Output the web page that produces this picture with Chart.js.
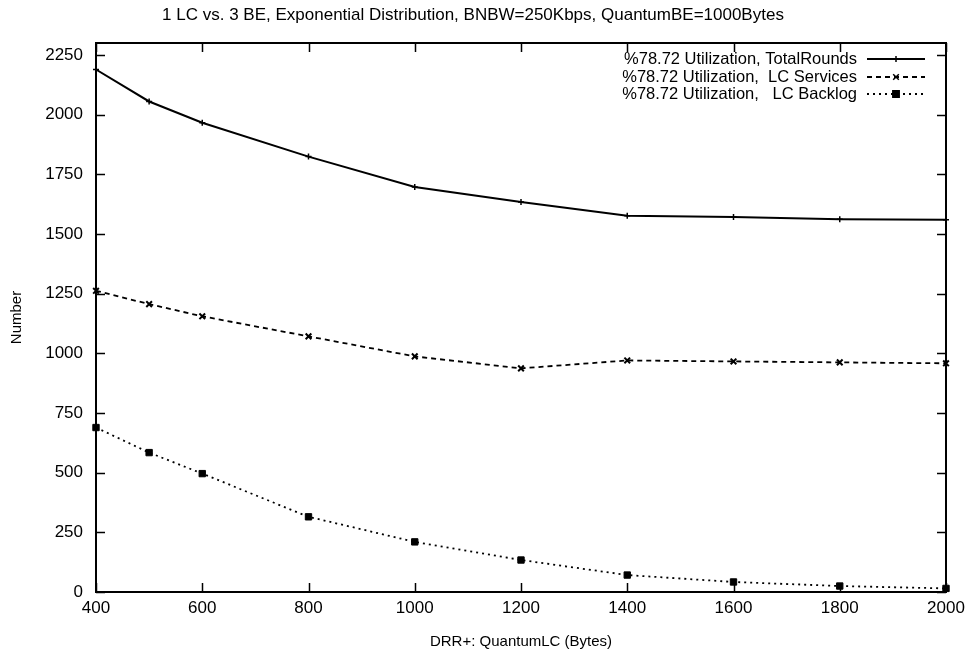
<!DOCTYPE html>
<html>
<head>
<meta charset="utf-8">
<script src="https://cdn.jsdelivr.net/npm/chart.js@4/dist/chart.umd.min.js"></script>
<style>
html,body{margin:0;padding:0;background:#fff;}
#wrap{width:971px;height:651px;}
</style>
</head>
<body>
<div id="wrap"><canvas id="c" width="971" height="651"></canvas></div>
<script>
const quantumLC = [400, 500, 600, 800, 1000, 1200, 1400, 1600, 1800, 2000];
const totalRounds = [2189, 2055, 1966, 1824, 1697, 1634, 1576, 1571, 1562, 1559];
const lcServices = [1262, 1206, 1155, 1071, 987, 937, 970, 966, 962, 958];
const lcBacklog = [689, 584, 496, 315, 210, 134, 71, 42, 25, 15];
const xTicks = [400, 600, 800, 1000, 1200, 1400, 1600, 1800, 2000];
const yTicks = [0, 250, 500, 750, 1000, 1250, 1500, 1750, 2000, 2250];
const seriesLabels = ['%78.72 Utilization, TotalRounds', '%78.72 Utilization,  LC Services', '%78.72 Utilization,   LC Backlog'];

const FONT = '"Liberation Sans", Arial, Helvetica, sans-serif';
const pts = arr => quantumLC.map((x, i) => ({x: x, y: arr[i]}));

const framePlugin = {
  id: 'frame',
  afterDatasetsDraw(chart) {
    const {ctx, chartArea: a, scales} = chart;
    ctx.save();
    ctx.strokeStyle = '#000';
    ctx.lineWidth = 2;
    ctx.strokeRect(a.left, a.top, a.right - a.left, a.bottom - a.top);
    ctx.lineWidth = 1.5;
    const L = 9;
    ctx.beginPath();
    xTicks.forEach(v => {
      const px = Math.round(scales.x.getPixelForValue(v)) + 0.5;
      ctx.moveTo(px, a.bottom); ctx.lineTo(px, a.bottom - L);
      ctx.moveTo(px, a.top); ctx.lineTo(px, a.top + L);
    });
    yTicks.forEach(v => {
      const py = Math.round(scales.y.getPixelForValue(v)) + 0.5;
      ctx.moveTo(a.left, py); ctx.lineTo(a.left + L, py);
      ctx.moveTo(a.right, py); ctx.lineTo(a.right - L, py);
    });
    ctx.stroke();
    // legend
    ctx.font = '16.5px ' + FONT;
    ctx.textAlign = 'right';
    ctx.textBaseline = 'middle';
    ctx.fillStyle = '#000';
    const rows = [59, 77, 94];
    const textRight = 857, s0 = 867, s1 = 925;
    chart.data.datasets.forEach((ds, i) => {
      const y = rows[i];
      ctx.fillText(ds.label, textRight, y);
      ctx.save();
      ctx.lineWidth = ds.borderWidth;
      ctx.setLineDash(ds.borderDash || []);
      ctx.beginPath();
      ctx.moveTo(s0, y); ctx.lineTo(s1, y);
      ctx.stroke();
      ctx.restore();
      Chart.helpers.drawPoint(ctx, {pointStyle: ds.pointStyle, radius: ds.pointRadius, borderWidth: ds.pointBorderWidth || 1.5}, (s0 + s1) / 2, y);
    });
    ctx.restore();
  }
};

new Chart(document.getElementById('c'), {
  type: 'line',
  data: {
    datasets: [
      {label: seriesLabels[0], data: pts(totalRounds), borderColor: '#000', backgroundColor: '#000', borderWidth: 2,
        pointStyle: 'cross', pointRadius: 3, pointBorderWidth: 1.5, borderDash: [], clip: false},
      {label: seriesLabels[1], data: pts(lcServices), borderColor: '#000', backgroundColor: '#000', borderWidth: 1.8,
        pointStyle: 'crossRot', pointRadius: 4, pointBorderWidth: 2, borderDash: [5, 4], clip: false},
      {label: seriesLabels[2], data: pts(lcBacklog), borderColor: '#000', backgroundColor: '#000', borderWidth: 1.8,
        pointStyle: 'rect', pointRadius: 4.5, pointBorderWidth: 1, borderDash: [2, 4], clip: false}
    ]
  },
  options: {
    responsive: false,
    animation: false,
    devicePixelRatio: 1,
    layout: {padding: {left: 0, right: 25, top: 0, bottom: 0}},
    plugins: {
      legend: {display: false},
      tooltip: {enabled: false},
      title: {
        display: true,
        text: '1 LC vs. 3 BE, Exponential Distribution, BNBW=250Kbps, QuantumBE=1000Bytes',
        color: '#000',
        font: {family: FONT, size: 17, weight: 'normal', lineHeight: 1.2},
        padding: {top: 5, bottom: 17.6}
      }
    },
    scales: {
      x: {
        type: 'linear', min: 400, max: 2000,
        afterBuildTicks: s => { s.ticks = xTicks.map(v => ({value: v})); },
        afterFit: s => { s.height = 59; },
        grid: {display: false, drawTicks: false},
        border: {display: false},
        ticks: {color: '#000', padding: 6, font: {family: FONT, size: 17}, maxRotation: 0, callback: v => String(v)},
        title: {display: true, text: 'DRR+: QuantumLC (Bytes)', color: '#000', font: {family: FONT, size: 15}, padding: {top: 3, bottom: 0}}
      },
      y: {
        type: 'linear', min: 0, max: 2300,
        afterBuildTicks: s => { s.ticks = yTicks.map(v => ({value: v})); },
        afterFit: s => { s.width = 96; },
        grid: {display: false, drawTicks: false},
        border: {display: false},
        ticks: {color: '#000', padding: 13, font: {family: FONT, size: 17}, callback: v => String(v)},
        title: {display: true, text: 'Number', color: '#000', font: {family: FONT, size: 15}, padding: {top: 8, bottom: 0}}
      }
    }
  },
  plugins: [framePlugin]
});
</script>
</body>
</html>
